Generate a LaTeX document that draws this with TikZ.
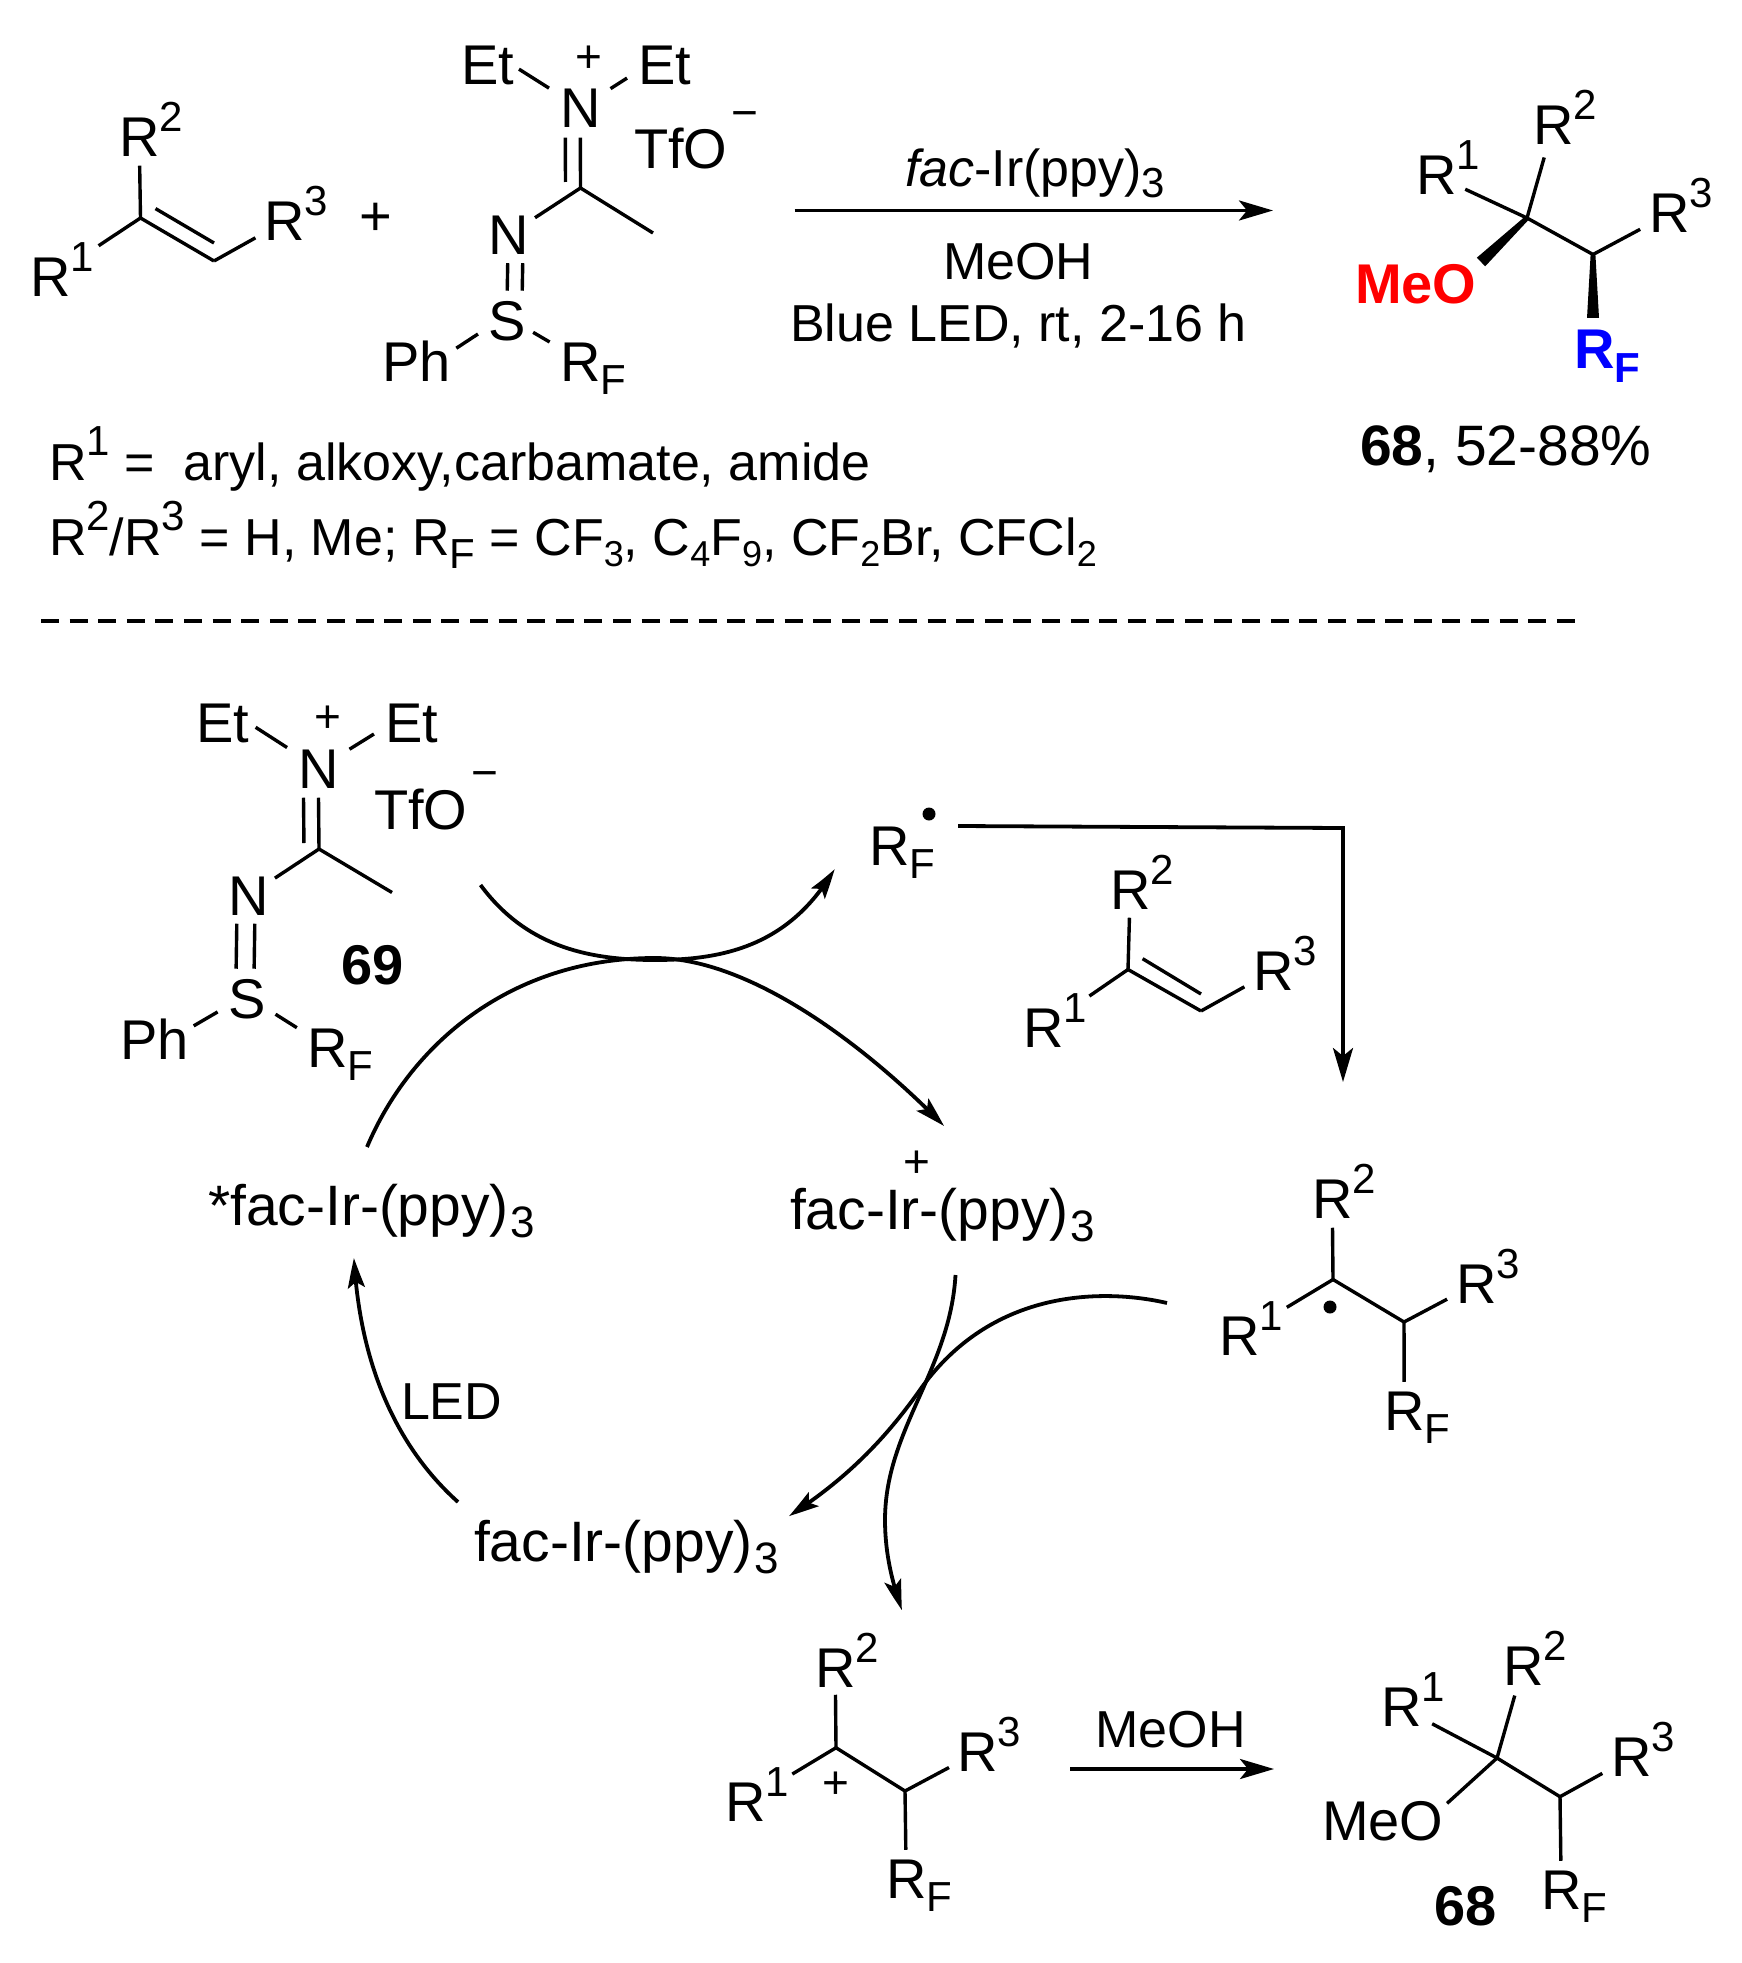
\documentclass[tikz,border=0pt]{standalone}
\usepackage{fontspec}
\setmainfont{Liberation Sans}
\usetikzlibrary{arrows.meta,bending,calc}
\newcommand{\supfont}{\fontsize{21}{21}\selectfont}
\newcommand{\signfont}{\fontsize{23}{23}\selectfont}
% super and subscripts inside running text
\newcommand{\tsup}[1]{\raisebox{12.5pt}{\supfont #1}}
\newcommand{\tsub}[1]{\raisebox{-5.5pt}{\supfont #1}}
\newcommand{\nsub}[1]{\raisebox{-5.5pt}{\fontsize{18}{18}\selectfont #1}}
\newcommand{\irsub}[1]{\kern1pt\raisebox{-6pt}{\fontsize{22}{22}\selectfont #1}}
% the same ones taking no room, so that a label's box is only its letter
\newcommand{\lsup}[1]{\smash{\rlap{\raisebox{12.5pt}{\supfont #1}}}}
\newcommand{\lsub}[1]{\smash{\rlap{\raisebox{-6.5pt}{\supfont #1}}}}
\newcommand{\wedgebond}[2]{\fill ($(#1)!1.2pt!90:(#2)$) -- ($(#2)!3pt!-90:(#1)$) -- ($(#2)!3pt!90:(#1)$) -- ($(#1)!1.2pt!-90:(#2)$) -- cycle;}
\begin{document}
\begin{tikzpicture}[
x=0.5pt,y=-0.5pt,
lab/.style={anchor=base west, inner sep=0pt, outer sep=0pt, xshift=-2pt, font=\fontsize{28}{32}\selectfont},
note/.style={lab, font=\fontsize{26}{30}\selectfont},
irlab/.style={lab, font=\fontsize{28.5}{32}\selectfont},
sign/.style={inner sep=0pt, outer sep=0pt, font=\signfont},
bond/.style={line width=1.7pt},
rxn/.style={line width=1.9pt, -{Stealth[length=17pt,width=10pt,inset=4pt]}},
curve/.style={line width=1.9pt, -{Stealth[length=15pt,width=8.5pt,inset=3pt,bend]}},
gs/.style={shorten <=#1*0.5pt},
ge/.style={shorten >=#1*0.5pt},
]
\useasboundingbox (0,0) rectangle (1741,1963);
%Scheme, olefin
\coordinate (aC) at (140.5,218);
\coordinate (aD) at (214,261);
\coordinate (aI) at (155.5,208.6);
\coordinate (aJ) at (214,243);
\node[lab](aR1) at (34,297) {R\lsup{1}};
\node[lab](aR2) at (123,157) {R\lsup{2}};
\node[lab](aR3) at (268,241) {R\lsup{3}};
\draw[bond,ge=58] (aC) -- (aR1.center);
\draw[bond,ge=28] (aC) -- (aR2.center);
\draw[bond,ge=33] (aD) -- (aR3.center);
\draw[bond] (aC) -- (aD);
\draw[bond] (aI) -- (aJ);
\node[lab,anchor=center,xshift=2pt](plus) at (375.5,219) {+};
%Scheme, reagent
\coordinate (bC) at (580.5,188);
\coordinate (bMe) at (653,233);
\node[lab](bEt1) at (465,85) {Et};
\node[lab](bEt2) at (642,85) {Et};
\node[lab](bN) at (564,128) {N};
\node[sign](bPlus) at (589,59) {+};
\node[lab](bTfO) at (638,169) {TfO};
\node[sign](bMinus) at (745,120) {−};
\node[lab](bN2) at (492,254.5) {N};
\node[lab](bS) at (492,341) {S};
\node[lab](bPh) at (386,381.5) {Ph};
\node[lab](bRF) at (564,381.5) {R\lsub{F}};
\draw[bond,gs=6,ge=13] (bEt1.east) -- (bN.146);
\draw[bond,gs=12,ge=13] (bN.34) -- (bEt2.191);
\draw[bond,ge=29] (bC) -- (bN.center);
\draw[bond,gs=6,ge=29] ([xshift=-7.5pt]bC) -- ([xshift=-7.5pt]bN.center);
\draw[bond] (bC) -- (bMe);
\draw[bond,ge=32] (bC) -- (bN2.center);
\draw[bond,gs=28,ge=31] (bN2.center) -- (bS.center);
\draw[bond,gs=28,ge=31] ([xshift=7.5pt]bN2.center) -- ([xshift=7.5pt]bS.center);
\draw[bond,gs=12,ge=7] (bS.197) -- (bPh.15);
\draw[bond,gs=9,ge=12] (bS.342) -- (bRF.145);
%Scheme, conditions
\coordinate (arrA) at (794.5,210.5);
\coordinate (arrB) at (1273,210.5);
\draw[rxn] (arrA) -- (arrB);
\node[note](cat) at (909,187) {\textit{fac}-Ir(ppy)\tsub{3}};
\node[note](meoh) at (947,280) {MeOH};
\node[note](led) at (794,342) {Blue LED, rt, 2-16 h};
\node[note](ln1) at (53,480) {R\tsup{1} = \ aryl, alkoxy,carbamate, amide};
\node[note](ln2) at (53,555) {R\tsup{2}/R\tsup{3} = H, Me; R\raisebox{-6.5pt}{\supfont F} = CF\nsub{3}, C\nsub{4}F\nsub{9}, CF\nsub{2}Br, CFCl\nsub{2}};
%Scheme, product
\coordinate (cC) at (1527,218);
\coordinate (cD) at (1593,254.5);
\node[lab](cR1) at (1420,195) {R\lsup{1}};
\node[lab](cR2) at (1537,145) {R\lsup{2}};
\node[lab](cR3) at (1653,233) {R\lsup{3}};
\node[lab,text=red,font=\fontsize{28}{32}\selectfont\bfseries](cMeO) at (1359,304) {MeO};
\node[lab,text=blue,font=\fontsize{28}{32}\selectfont\bfseries](cRF) at (1578,369) {R\lsub{F}};
\coordinate (cO) at (1481,262);
\coordinate (cF) at (1593,318);
\draw[bond,ge=32] (cC) -- (cR1.center);
\draw[bond,ge=33] (cC) -- (cR2.center);
\draw[bond,ge=33] (cD) -- (cR3.center);
\draw[bond] (cC) -- (cD);
\wedgebond{cC}{cO}
\wedgebond{cD}{cF}
\node[lab,font=\fontsize{28.5}{32}\selectfont](cYield) at (1364,465) {\textbf{68}, 52-88\%};
%Divider
\coordinate (divA) at (41,621);
\coordinate (divB) at (1577,621);
\draw[line width=2.2pt,dash pattern=on 9pt off 5.3pt] (divA) -- (divB);
%Cycle, reagent 69
\coordinate (dC) at (319,849);
\coordinate (dMe) at (392,892.5);
\node[lab](dEt1) at (200,742) {Et};
\node[lab](dEt2) at (389,742) {Et};
\node[lab](dN) at (302,788) {N};
\node[sign](dPlus) at (328,719) {+};
\node[lab](dTfO) at (378,829) {TfO};
\node[sign](dMinus) at (485,780) {−};
\node[lab](dN2) at (232,915) {N};
\node[lab](dS) at (232,1018) {S};
\node[lab](dPh) at (124,1059) {Ph};
\node[lab](dRF) at (311,1067) {R\lsub{F}};
\node[lab](d69) at (345,984) {\textbf{69}};
\draw[bond,gs=8,ge=13] (dEt1.east) -- (dN.145);
\draw[bond,gs=13,ge=13] (dN.32) -- (dEt2.189);
\draw[bond,ge=29] (dC) -- (dN.center);
\draw[bond,gs=6,ge=29] ([xshift=-7.5pt]dC) -- ([xshift=-7.5pt]dN.center);
\draw[bond] (dC) -- (dMe);
\draw[bond,ge=32] (dC) -- (dN2.center);
\draw[bond,gs=28,ge=30] ([xshift=-5.5pt]dN2.center) -- ([xshift=-5.5pt]dS.center);
\draw[bond,gs=28,ge=30] ([xshift=3.5pt]dN2.center) -- ([xshift=3.5pt]dS.center);
\draw[bond,gs=12,ge=6] (dS.201) -- (dPh.16);
\draw[bond,gs=12,ge=12] (dS.334) -- (dRF.146);
%Cycle, iridium
\node[irlab](irStar) at (212,1225) {*fac-Ir-(ppy)\irsub{3}};
\node[irlab](irPlus) at (794,1229) {fac-Ir-(ppy)\irsub{3}};
\node[sign](irSign) at (917,1164) {+};
\node[irlab](irGround) at (478,1561) {fac-Ir-(ppy)\irsub{3}};
\node[note](ledtxt) at (405,1419) {LED};
\node[lab](rad) at (873,865) {R\lsub{F}};
\node[inner sep=0pt,circle,fill,minimum size=6.5pt](radDot) at (929,814) {};
%Cycle, arrows
\coordinate (e1a) at (480.5,885);
\coordinate (e1b) at (655,960);
\coordinate (e1c) at (834.5,869);
\coordinate (e2a) at (367,1147);
\coordinate (e2b) at (655,958);
\coordinate (e2c) at (944,1126);
\coordinate (e3a) at (958,826);
\coordinate (e3b) at (1343,828);
\coordinate (e3c) at (1343,1082);
\coordinate (e4a) at (955.5,1275);
\coordinate (e4b) at (885,1520);
\coordinate (e4c) at (902,1610);
\coordinate (e5a) at (1167,1303);
\coordinate (e5b) at (922,1387);
\coordinate (e5c) at (789,1516);
\coordinate (e6a) at (458,1502);
\coordinate (e6b) at (354,1258);
\draw[curve] (e1a) .. controls (525,945) and (585,960) .. (e1b) .. controls (725,960) and (790,945) .. (e1c);
\draw[curve] (e2a) .. controls (410,1045) and (510,958) .. (e2b) .. controls (750,958) and (865,1045) .. (e2c);
\draw[rxn] (e3a) -- (e3b) -- (e3c);
\draw[curve] (e4a) .. controls (950,1370) and (885,1430) .. (e4b) .. controls (885,1555) and (893,1585) .. (e4c);
\draw[curve] (e5a) .. controls (1120,1292) and (1000,1280) .. (e5b) .. controls (885,1440) and (845,1480) .. (e5c);
\draw[curve] (e6a) .. controls (400,1450) and (360,1370) .. (e6b);
%Cycle, olefin
\coordinate (fC) at (1128,969.5);
\coordinate (fD) at (1201,1011);
\coordinate (fI) at (1142.6,958.7);
\coordinate (fJ) at (1201,994);
\node[lab](fR1) at (1027,1047) {R\lsup{1}};
\node[lab](fR2) at (1114,909) {R\lsup{2}};
\node[lab](fR3) at (1257,990) {R\lsup{3}};
\draw[bond,ge=56] (fC) -- (fR1.center);
\draw[bond,ge=28] (fC) -- (fR2.center);
\draw[bond,ge=33] (fD) -- (fR3.center);
\draw[bond] (fC) -- (fD);
\draw[bond] (fI) -- (fJ);
%Cycle, radical
\coordinate (gC) at (1333,1279.5);
\coordinate (gD) at (1404,1322);
\node[lab](gR1) at (1223.5,1355) {R\lsup{1}};
\node[lab](gR2) at (1316,1218) {R\lsup{2}};
\node[lab](gR3) at (1460,1303) {R\lsup{3}};
\node[lab](gRF) at (1388,1430) {R\lsub{F}};
\node[inner sep=0pt,circle,fill,minimum size=6.5pt](gDot) at (1330,1307) {};
\draw[bond,ge=55] (gC) -- (gR1.center);
\draw[bond,ge=29] (gC) -- (gR2.center);
\draw[bond] (gC) -- (gD);
\draw[bond,ge=33] (gD) -- (gR3.center);
\draw[bond,ge=29] (gD) -- (gRF.center);
%Cycle, cation
\coordinate (hC) at (836,1747.7);
\coordinate (hD) at (905,1791);
\node[lab](hR1) at (729,1821.7) {R\lsup{1}};
\node[lab](hR2) at (819,1687) {R\lsup{2}};
\node[lab](hR3) at (961,1771.7) {R\lsup{3}};
\node[lab](hRF) at (890,1898) {R\lsub{F}};
\node[sign](hPlus) at (836,1785) {+};
\draw[bond,ge=55] (hC) -- (hR1.center);
\draw[bond,ge=27] (hC) -- (hR2.center);
\draw[bond] (hC) -- (hD);
\draw[bond,ge=32] (hD) -- (hR3.center);
\draw[bond,ge=29] (hD) -- (hRF.center);
%Cycle, last step
\coordinate (arrC) at (1070,1769);
\coordinate (arrD) at (1274,1769);
\draw[rxn] (arrC) -- (arrD);
\node[note](meoh2) at (1099.5,1747.7) {MeOH};
\coordinate (iC) at (1497,1758);
\coordinate (iD) at (1560,1796.7);
\node[lab](iR1) at (1385,1726.7) {R\lsup{1}};
\node[lab](iR2) at (1507,1685) {R\lsup{2}};
\node[lab](iR3) at (1615,1776.7) {R\lsup{3}};
\node[lab](iMeO) at (1326,1840) {MeO};
\node[lab](iRF) at (1545,1909) {R\lsub{F}};
\node[lab](i68) at (1438,1925) {\textbf{68}};
\draw[bond,ge=35] (iC) -- (iR1.center);
\draw[bond,ge=31] (iC) -- (iR2.center);
\draw[bond,ge=5] (iC) -- (iMeO.13);
\draw[bond] (iC) -- (iD);
\draw[bond,ge=33] (iD) -- (iR3.center);
\draw[bond,ge=29] (iD) -- (iRF.center);
\end{tikzpicture}
\end{document}
